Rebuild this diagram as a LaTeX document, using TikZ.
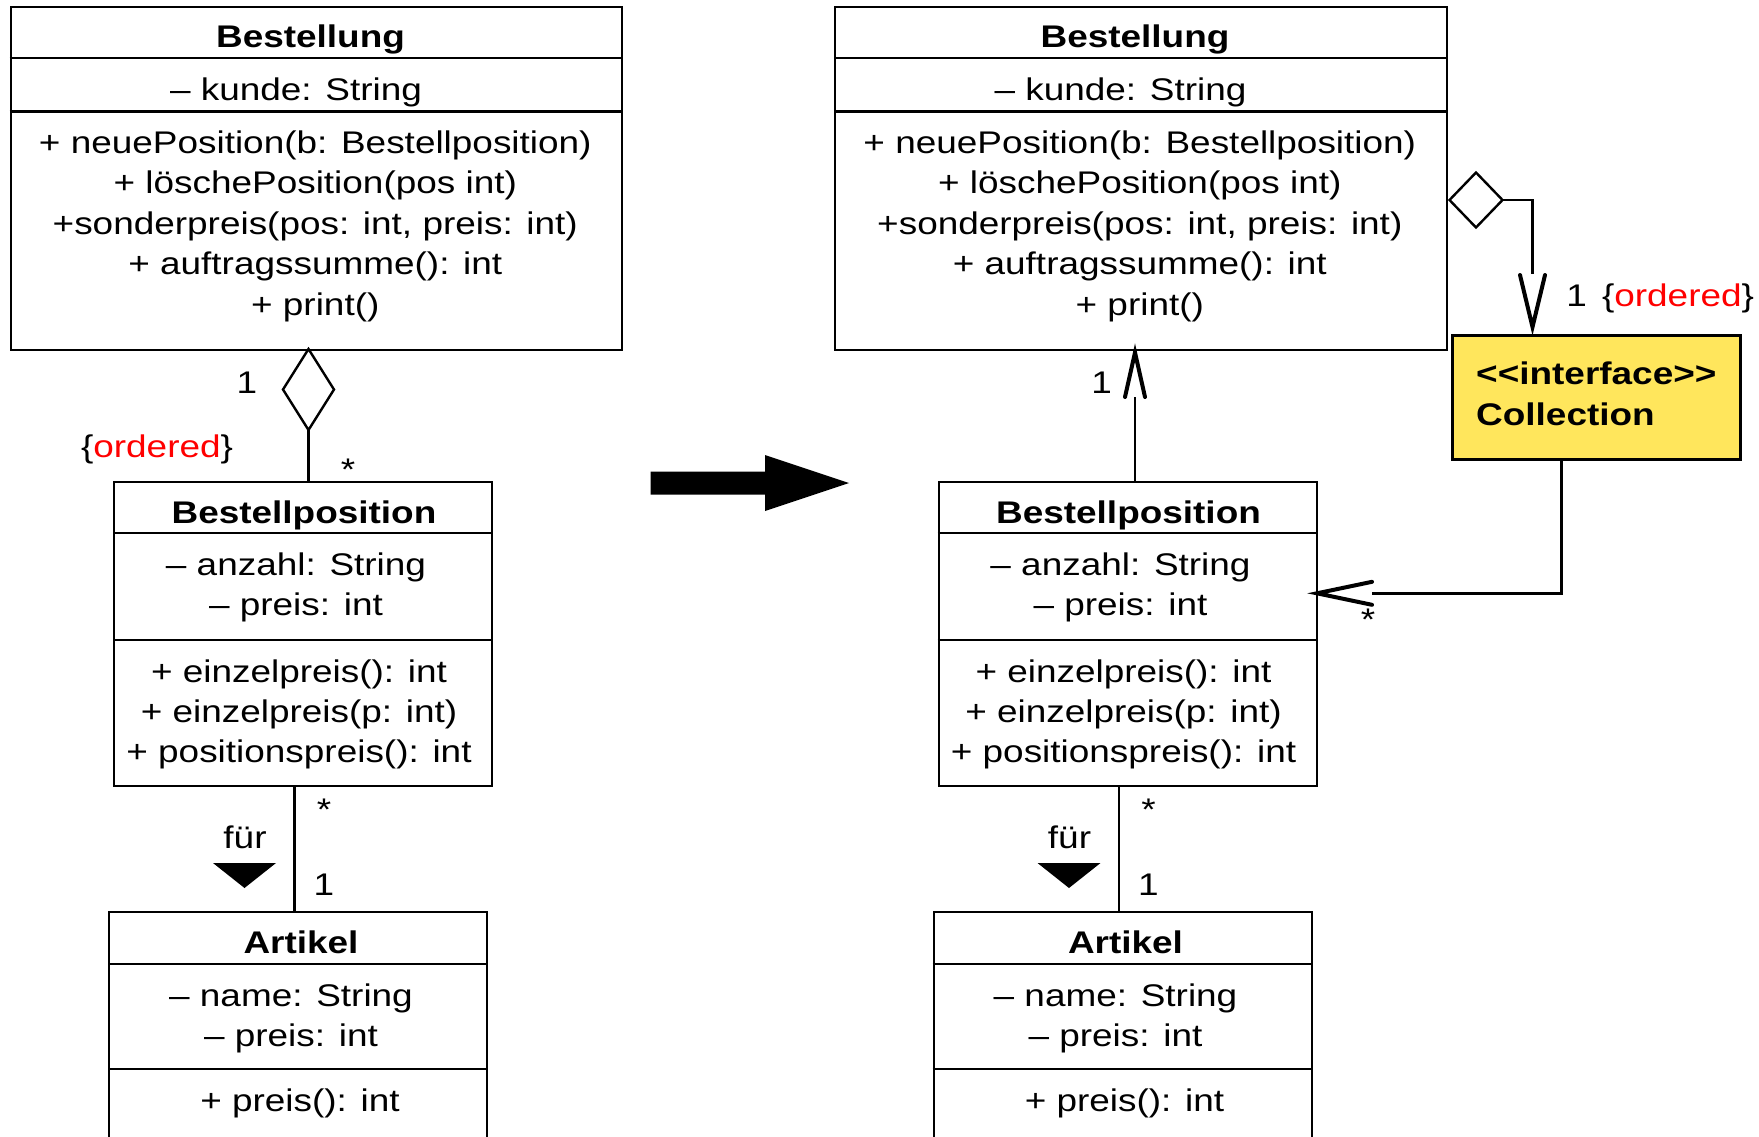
\documentclass[tikz,border=0pt]{standalone}
\usepackage{fontspec}
\setmainfont[FakeStretch=1.18]{Liberation Sans}
\usetikzlibrary{calc}
\definecolor{ordred}{RGB}{255,0,0}
\definecolor{collyellow}{RGB}{255,230,92}
\begin{document}
\begin{tikzpicture}[x=1pt,y=-1pt,
  txt/.style={anchor=base, inner sep=0pt, font=\fontsize{31.3}{40.4}\selectfont},
  ttl/.style={anchor=base, inner sep=0pt, font=\fontsize{31.3}{40.4}\selectfont\bfseries},
  classbox/.style={draw, line width=2.2pt, inner sep=0pt, anchor=north west},
  sepline/.style={line width=2.2pt},
  conn/.style={line width=2.4pt},
  openhead/.style={line width=4pt, line cap=round, line join=miter}]
\useasboundingbox (0,0) rectangle (1759,1136);

% big transformation arrow
\fill[black] (650.5,471.5) -- (765,471.5) -- (765,455) -- (849,483) -- (765,511) -- (765,494.5) -- (650.5,494.5) -- cycle;

\foreach \o/\s in {0/L,824.5/R} {
  % ---- Bestellung
  \node[classbox, minimum width=611.5pt, minimum height=343.5pt] (\s best) at ({9.5+\o},5.5) {};
  \draw[sepline] ({9.5+\o},58) -- ({621+\o},58);
  \draw[sepline] ({9.5+\o},111.5) -- ({621+\o},111.5);
  \node[ttl] (\s bestT) at ({310.5+\o},47.5) {Bestellung};
  \node[txt] (\s bestA) at ({296+\o},100) {– kunde: String};
  \node[txt] (\s bestM1) at ({315.3+\o},153.5) {+ neuePosition(b: Bestellposition)};
  \node[txt] (\s bestM2) at ({315.3+\o},193.9) {+ löschePosition(pos int)};
  \node[txt] (\s bestM3) at ({315.3+\o},234.3) {+sonderpreis(pos: int, preis: int)};
  \node[txt] (\s bestM4) at ({315.3+\o},274.7) {+ auftragssumme(): int};
  \node[txt] (\s bestM5) at ({315.3+\o},315.1) {+ print()};
  % ---- Bestellposition
  \node[classbox, minimum width=378pt, minimum height=304pt] (\s pos) at ({113+\o},481) {};
  \draw[sepline] ({113+\o},533) -- ({491+\o},533);
  \draw[sepline] ({113+\o},640) -- ({491+\o},640);
  \node[ttl] (\s posT) at ({304+\o},523) {Bestellposition};
  \node[txt] (\s posA1) at ({296+\o},575) {– anzahl: String};
  \node[txt] (\s posA2) at ({296+\o},615.4) {– preis: int};
  \node[txt] (\s posM1) at ({299+\o},682) {+ einzelpreis(): int};
  \node[txt] (\s posM2) at ({299+\o},722.4) {+ einzelpreis(p: int)};
  \node[txt] (\s posM3) at ({299+\o},762.8) {+ positionspreis(): int};
  % ---- Artikel
  \node[classbox, minimum width=378pt, minimum height=232pt] (\s art) at ({108+\o},911) {};
  \draw[sepline] ({108+\o},964) -- ({486+\o},964);
  \draw[sepline] ({108+\o},1069) -- ({486+\o},1069);
  \node[ttl] (\s artT) at ({301+\o},953) {Artikel};
  \node[txt] (\s artA1) at ({291+\o},1006) {– name: String};
  \node[txt] (\s artA2) at ({291+\o},1046.4) {– preis: int};
  \node[txt] (\s artM1) at ({300+\o},1111) {+ preis(): int};
  % ---- association "für"
  \coordinate (\s fx) at ({294.5+\o},0);
  \draw[conn] (\s pos.south -| \s fx) -- (\s art.north -| \s fx);
  \fill[black] ({213+\o},863) -- ({276+\o},863) -- ({244.5+\o},888) -- cycle;
  \node[txt] (\s fuer) at ({245+\o},848) {für};
  \node[txt] (\s fstar) at ({324+\o},820) {*};
  \node[txt] (\s fone) at ({324+\o},895) {1};
}

% ---- left aggregation
\coordinate (Ldia) at (308.5,389.5);
\draw[conn, line join=miter] ($(Ldia)+(0,-40.5)$) -- ++(25.5,40.5) -- ++(-25.5,40.5) -- ++(-25.5,-40.5) -- cycle;
\draw[conn] ($(Ldia)+(0,40.5)$) -- (Lpos.north -| Ldia);
\node[txt] (Lone) at (247,393) {1};
\node[txt] (Lord) at (157,457) {\{\textcolor{ordred}{ordered}\}};
\node[txt] (Lstar) at (348,480) {*};

% ---- right: Bestellposition -> Bestellung
\coordinate (Rtip) at (1135,352.5);
\draw[conn] (Rpos.north -| Rtip) -- ($(Rtip)+(0,44.5)$);
\draw[openhead] ($(Rtip)+(-10,44.5)$) -- (Rtip) -- ($(Rtip)+(10,44.5)$);
\node[txt] (Rone) at (1101.7,393) {1};

% ---- Collection interface
\node[draw, line width=3.5pt, fill=collyellow, inner sep=0pt, anchor=north west,
      minimum width=288pt, minimum height=124pt] (coll) at (1450.5,333.5) {};
\node[ttl, anchor=base west] (collS) at (1476,384) {<\kern0pt<interface>\kern0pt>};
\node[ttl, anchor=base west] (collN) at (1476,425) {Collection};

% diamond at Bestellung -> Collection
\coordinate (Rdia) at (1476,200);
\draw[conn, line join=miter] ($(Rdia)+(-26.5,0)$) -- ++(26.5,-27.5) -- ++(26.5,27.5) -- ++(-26.5,27.5) -- cycle;
\coordinate (Rvtip) at (1532.5,327);
\draw[conn] ($(Rdia)+(26.5,0)$) -- (Rvtip |- Rdia) -- ($(Rvtip)+(0,-53)$);
\draw[openhead] ($(Rvtip)+(-12.5,-52)$) -- (Rvtip) -- ($(Rvtip)+(12.5,-52)$);
\node[txt] (Rcone) at (1576.7,306) {1};
\node[txt] (Rcord) at (1678,306) {\{\textcolor{ordred}{ordered}\}};

% Collection -> Bestellposition
\coordinate (Rltip) at (1317,593.3);
\coordinate (Rcx) at (1561.5,0);
\draw[conn] (coll.south -| Rcx) -- (Rcx |- Rltip) -- ($(Rltip)+(55,0)$);
\draw[openhead] ($(Rltip)+(55,-11.5)$) -- (Rltip) -- ($(Rltip)+(55,11.5)$);
\node[txt] (Rcstar) at (1368,630) {*};
\end{tikzpicture}
\end{document}
